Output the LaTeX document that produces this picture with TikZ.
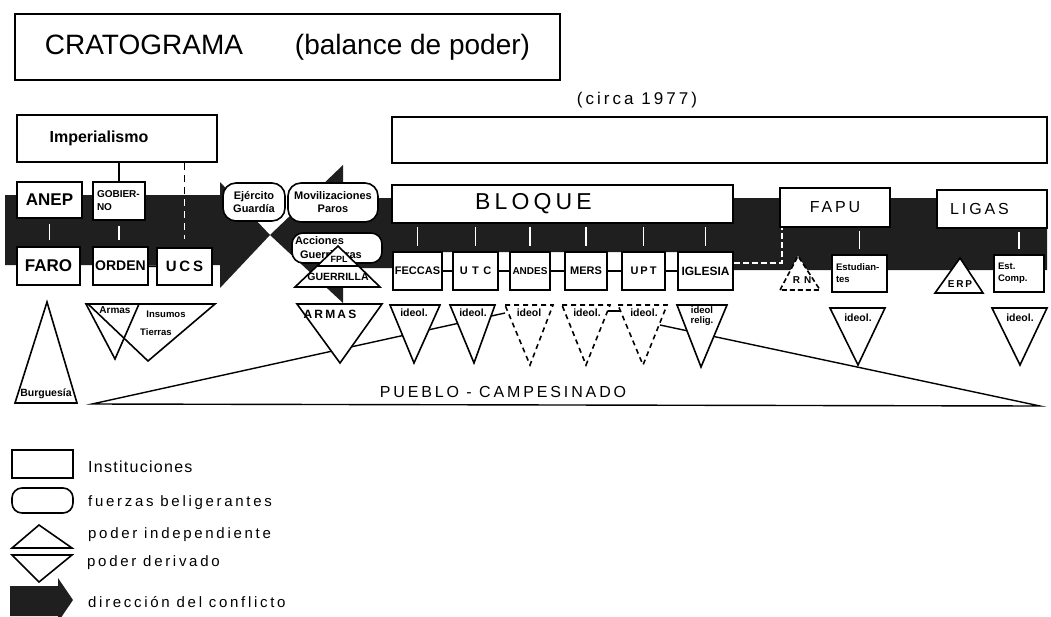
\documentclass[tikz,border=0pt]{standalone}
\usepackage{fontspec}
\setmainfont{Liberation Sans}
\newfontfamily\espaciada[LetterSpace=18]{Liberation Sans}
\newfontfamily\muyespaciada[LetterSpace=40]{Liberation Sans}
\newfontfamily\pocoespaciada[LetterSpace=8]{Liberation Sans}
\usetikzlibrary{calc}
\tikzset
{
  InstitucionStyle/.style =
  {
    shape = rectangle,
    draw,
    fill = white,
    line width = 1.6pt,
    inner sep = 2pt,
    font = \bfseries\fontsize{11}{13}\selectfont,
  },
  FuerzaStyle/.style =
  {
    shape = rectangle,
    rounded corners = 13pt,
    draw,
    fill = white,
    line width = 1.6pt,
    inner sep = 1pt,
    align = center,
    font = \bfseries\fontsize{11}{13}\selectfont,
  },
  PoderIndepStyle/.style =
  {
    draw,
    fill = white,
    line width = 1.6pt,
  },
  PoderDerivStyle/.style =
  {
    draw,
    fill = white,
    line width = 1.6pt,
  },
  DudosoStyle/.style =
  {
    PoderDerivStyle,
    dash pattern = on 5pt off 4pt,
  },
  ConflictoStyle/.style =
  {
    fill = black!88,
  },
  EnlaceStyle/.style =
  {
    draw = white,
    line width = 1.5pt,
  },
  RamaStyle/.style =
  {
    draw = black,
    line width = 1.6pt,
  },
  PuebloStyle/.style =
  {
    draw,
    line width = 1.4pt,
  },
  EtiquetaStyle/.style =
  {
    inner sep = 0pt,
    font = \bfseries\fontsize{10.5}{11}\selectfont,
  },
  TextoStyle/.style =
  {
    inner sep = 0pt,
    font = \espaciada\fontsize{16}{18}\selectfont,
  },
  LeyendaStyle/.style =
  {
    anchor = west,
    inner sep = 0pt,
    font = \espaciada\fontsize{15}{17}\selectfont,
  }
}

\begin{document}
\begin{tikzpicture}[x = 1pt, y = -1pt]
  \useasboundingbox (0,0) rectangle (1051,616);

  % flechas del conflicto
  \fill[ConflictoStyle] (5,195) -- (220,195) -- (220,182) -- (270,235) -- (220,288) -- (220,265) -- (5,265) -- cycle;
  \fill[ConflictoStyle] (1047,198) -- (343,198) -- (343,165) -- (270,235) -- (343,303) -- (343,268)
    -- (392,268) -- (392,252) -- (733,252) -- (733,270) -- (1047,270) -- cycle;

  % titulo
  \node[InstitucionStyle, font = \fontsize{28}{30}\selectfont, minimum width = 545pt, minimum height = 66pt]
    (titulo) at (287.5,47) {CRATOGRAMA\hspace{52pt}(balance de poder)};
  \node[TextoStyle, font = \espaciada\fontsize{17}{19}\selectfont] (circa) at (637,100) {(circa 1977)};

  % instituciones
  \node[InstitucionStyle, font = \bfseries\fontsize{16}{18}\selectfont, minimum width = 200pt, minimum height = 47pt]
    (imp) at (117,138.5) {Imperialismo\hspace*{36pt}};
  \node[InstitucionStyle, minimum width = 655pt, minimum height = 46pt] (cupula) at (719.5,140) {};
  \node[InstitucionStyle, font = \bfseries\fontsize{17}{19}\selectfont, minimum width = 65pt, minimum height = 36pt]
    (anep) at (49.5,200) {ANEP};
  \node[InstitucionStyle, font = \bfseries\fontsize{17}{19}\selectfont, minimum width = 63pt, minimum height = 38pt]
    (faro) at (48.5,266) {FARO};
  \node[InstitucionStyle, font = \bfseries\fontsize{10}{13}\selectfont, align = left, text width = 44pt,
    inner xsep = 4pt, minimum height = 38pt] (gob) at (119,201) {GOBIER-\\NO};
  \node[InstitucionStyle, font = \bfseries\fontsize{14}{16}\selectfont, minimum width = 55pt, minimum height = 38pt]
    (orden) at (120.5,266) {ORDEN};
  \node[InstitucionStyle, font = \espaciada\bfseries\fontsize{15}{17}\selectfont, minimum width = 55pt, minimum height = 37pt]
    (ucs) at (184.5,266.5) {UCS};

  % fuerzas beligerantes
  \node[FuerzaStyle, minimum width = 62pt, minimum height = 38pt] (ejercito) at (254,202) {Ejército\\Guardía};
  \node[FuerzaStyle, minimum width = 90pt, minimum height = 39pt] (moviliz) at (333,202.5) {Movilizaciones\\Paros};
  \node[FuerzaStyle, align = left, text width = 84pt, inner xsep = 3pt, rounded corners = 11pt,
    font = \bfseries\fontsize{11}{14}\selectfont, minimum height = 30pt]
    (acciones) at (337,248) {Acciones\\\hspace*{5pt}Guerrilleras};

  % bloque
  \node[InstitucionStyle, font = \espaciada\fontsize{23}{25}\selectfont, minimum width = 341pt, minimum height = 38pt]
    (bloque) at (562.5,204) {BLOQUE\hspace*{58pt}};
  \node[InstitucionStyle, minimum width = 49pt, minimum height = 38pt] (feccas) at (417.5,271) {FECCAS};
  \node[InstitucionStyle, font = \muyespaciada\bfseries\fontsize{11}{13}\selectfont, minimum width = 45pt, minimum height = 38pt]
    (utc) at (475.5,271) {UTC};
  \node[InstitucionStyle, font = \bfseries\fontsize{10}{12}\selectfont, minimum width = 40pt, minimum height = 38pt]
    (andes) at (530,271) {ANDES};
  \node[InstitucionStyle, minimum width = 42pt, minimum height = 38pt] (mers) at (586,271) {MERS};
  \node[InstitucionStyle, font = \espaciada\bfseries\fontsize{11}{13}\selectfont, minimum width = 43pt, minimum height = 38pt]
    (upt) at (643.5,271) {UPT};
  \node[InstitucionStyle, font = \bfseries\fontsize{12}{14}\selectfont, minimum width = 55pt, minimum height = 38pt]
    (iglesia) at (705.5,271) {IGLESIA};

  % fapu y ligas
  \node[InstitucionStyle, font = \espaciada\fontsize{16}{18}\selectfont, minimum width = 110pt, minimum height = 39pt]
    (fapu) at (835,207.5) {FAPU};
  \node[InstitucionStyle, font = \espaciada\fontsize{16}{18}\selectfont, minimum width = 110pt, minimum height = 38pt]
    (ligas) at (992,209) {LIGAS\hspace*{25pt}};
  \node[InstitucionStyle, font = \bfseries\fontsize{9.5}{12}\selectfont, align = left, text width = 47pt,
    inner xsep = 4pt, minimum height = 37pt] (estud) at (859.5,273.5) {Estudian-\\tes};
  \node[InstitucionStyle, font = \bfseries\fontsize{9.5}{12}\selectfont, align = left, text width = 42pt,
    inner xsep = 4pt, minimum height = 37pt] (estcomp) at (1019,273.5) {Est.\\Comp.};

  % enlaces
  \draw[RamaStyle] (imp.south -| gob.north) -- (gob.north);
  \draw[RamaStyle, dash pattern = on 7pt off 5pt, shorten >= 8pt] (imp.south -| ucs.north) -- (ucs.north);
  \begin{scope}
    \clip (150,195) rectangle (220,265);
    \draw[EnlaceStyle, line width = 1.6pt, dash pattern = on 7pt off 5pt, shorten >= 8pt] (imp.south -| ucs.north) -- (ucs.north);
  \end{scope}
  \draw[EnlaceStyle, shorten <= 5pt, shorten >= 6pt] (anep.south) -- (anep.south |- faro.north);
  \draw[EnlaceStyle, shorten <= 5pt, shorten >= 6pt] (gob.south) -- (gob.south |- orden.north);
  \draw[RamaStyle] (orden) -- (ucs);
  \draw[EnlaceStyle, shorten <= 3pt, shorten >= 5pt] (bloque.south -| feccas.north) -- (feccas.north);
  \draw[EnlaceStyle, shorten <= 3pt, shorten >= 5pt] (bloque.south -| utc.north) -- (utc.north);
  \draw[EnlaceStyle, shorten <= 3pt, shorten >= 5pt] (bloque.south -| andes.north) -- (andes.north);
  \draw[EnlaceStyle, shorten <= 3pt, shorten >= 5pt] (bloque.south -| mers.north) -- (mers.north);
  \draw[EnlaceStyle, shorten <= 3pt, shorten >= 5pt] (bloque.south -| upt.north) -- (upt.north);
  \draw[EnlaceStyle, shorten <= 3pt, shorten >= 5pt] (bloque.south -| iglesia.north) -- (iglesia.north);
  \draw[RamaStyle] (feccas) -- (utc);
  \draw[RamaStyle] (utc) -- (andes);
  \draw[RamaStyle] (andes) -- (mers);
  \draw[RamaStyle] (mers) -- (upt);
  \draw[RamaStyle] (upt) -- (iglesia);
  \draw[EnlaceStyle, dash pattern = on 6pt off 3pt] ([yshift = 8pt]iglesia.east) -| ([xshift = 3pt]fapu.south west);
  \draw[EnlaceStyle, shorten <= 3pt, shorten >= 5pt] (fapu.south -| estud.north) -- (estud.north);
  \draw[EnlaceStyle, shorten <= 3pt, shorten >= 5pt] (ligas.south -| estcomp.north) -- (estcomp.north);

  % pueblo - campesinado
  \coordinate (pIzq) at (92,404);
  \coordinate (pDer) at (1040,406);
  \coordinate (pCimaIzq) at (505,313);
  \coordinate (pCimaDer) at (660,325);
  \coordinate (mersIdeolDer) at (607,311);
  \coordinate (uptIdeolIzq) at (622,311);
  \draw[PuebloStyle] (pCimaIzq) -- (pIzq) -- (pDer) -- (pCimaDer);
  \draw[PuebloStyle] (mersIdeolDer) -- (uptIdeolIzq);
  \node[TextoStyle] (pueblo) at (503,392) {PUEBLO - CAMPESINADO};

  % poder independiente / derivado
  \draw[PoderIndepStyle] (15,403) -- (47,302) -- (77,403) -- cycle;
  \node[EtiquetaStyle] (burguesia) at (46,394) {Burguesía};
  \draw[PoderDerivStyle] (88,304) -- (215,304) -- (148,361) -- cycle;
  \draw[PoderDerivStyle, fill = none] (86,304) -- (139,304) -- (115,359) -- cycle;
  \node[EtiquetaStyle, font = \bfseries\fontsize{10}{11}\selectfont] (armasA) at (115,310) {Armas};
  \node[EtiquetaStyle, font = \bfseries\fontsize{9.5}{11}\selectfont] (insumos) at (166,314) {Insumos};
  \node[EtiquetaStyle, font = \bfseries\fontsize{9.5}{11}\selectfont] (tierras) at (156,332) {Tierras};

  \coordinate (gIzq) at (295,287);
  \coordinate (gCima) at (338,246);
  \coordinate (gDer) at (380,287);
  \draw[PoderIndepStyle] (gIzq) -- (gCima) -- (gDer) -- cycle;
  \draw[PoderIndepStyle] ($(gIzq)!0.51!(gCima)$) -- ($(gDer)!0.51!(gCima)$);
  \node[EtiquetaStyle, font = \bfseries\fontsize{9}{10}\selectfont] (fpl) at (339,259) {FPL};
  \node[EtiquetaStyle] (guerrilla) at (338,277) {GUERRILLA};

  \draw[PoderDerivStyle] (297,304) -- (382,304) -- (340,363) -- cycle;
  \node[EtiquetaStyle, font = \espaciada\bfseries\fontsize{12}{13}\selectfont] (armasB) at (330,314) {ARMAS};

  \draw[PoderDerivStyle] (390,305) -- (440,305) -- (414,363) -- cycle;
  \node[EtiquetaStyle] (ideolA) at (414,313) {ideol.};
  \draw[PoderDerivStyle] (450,305) -- (495,305) -- (474,363) -- cycle;
  \node[EtiquetaStyle] (ideolB) at (473,313) {ideol.};
  \draw[DudosoStyle] (505,305) -- (553,305) -- (530,365) -- cycle;
  \node[EtiquetaStyle] (ideolC) at (529,313) {ideol};
  \draw[DudosoStyle] (562,305) -- (610,305) -- (586,365) -- cycle;
  \node[EtiquetaStyle] (ideolD) at (587,313) {ideol.};
  \draw[DudosoStyle] (618,305) -- (667,305) -- (643,365) -- cycle;
  \node[EtiquetaStyle] (ideolE) at (644,313) {ideol.};
  \draw[PoderDerivStyle] (677,305) -- (727,305) -- (701,367) -- cycle;
  \node[EtiquetaStyle, align = center, font = \bfseries\fontsize{9.5}{10}\selectfont] (ideolF) at (702,316) {ideol\\relig.};

  \draw[DudosoStyle, dash pattern = on 5pt off 3pt] (780,290) -- (798,256) -- (820,290) -- cycle;
  \node[EtiquetaStyle, font = \muyespaciada\bfseries\fontsize{10}{11}\selectfont] (rn) at (802,280) {RN};
  \draw[PoderIndepStyle] (935,293) -- (960,258) -- (983,293) -- cycle;
  \node[EtiquetaStyle, font = \espaciada\bfseries\fontsize{10}{11}\selectfont] (erp) at (960,284) {ERP};

  \draw[PoderDerivStyle] (830,308) -- (885,308) -- (858,365) -- cycle;
  \node[EtiquetaStyle] (ideolG) at (858,318) {ideol.};
  \draw[PoderDerivStyle] (992,308) -- (1047,308) -- (1020,365) -- cycle;
  \node[EtiquetaStyle] (ideolH) at (1020,318) {ideol.};

  % leyenda
  \node[InstitucionStyle, minimum width = 61pt, minimum height = 28pt] (leyInst) at (42.5,464) {};
  \node[LeyendaStyle, font = \pocoespaciada\fontsize{16}{18}\selectfont] (txtInst) at (88,467) {Instituciones};
  \node[FuerzaStyle, rounded corners = 10pt, minimum width = 61pt, minimum height = 25pt] (leyFuer) at (42.5,500.5) {};
  \node[LeyendaStyle] (txtFuer) at (88,503) {fuerzas beligerantes};
  \draw[PoderIndepStyle] (12,548) -- (39,525) -- (72,548) -- cycle;
  \node[LeyendaStyle] (txtIndep) at (88,535) {poder independiente};
  \draw[PoderDerivStyle] (12,555) -- (72,555) -- (39,582) -- cycle;
  \node[LeyendaStyle] (txtDeriv) at (87,563) {poder derivado};
  \fill[ConflictoStyle] (10,586) -- (58,586) -- (58,578) -- (73,600) -- (58,622) -- (58,616) -- (10,616) -- cycle;
  \node[LeyendaStyle] (txtConf) at (88,602) {dirección del conflicto};
\end{tikzpicture}
\end{document}
